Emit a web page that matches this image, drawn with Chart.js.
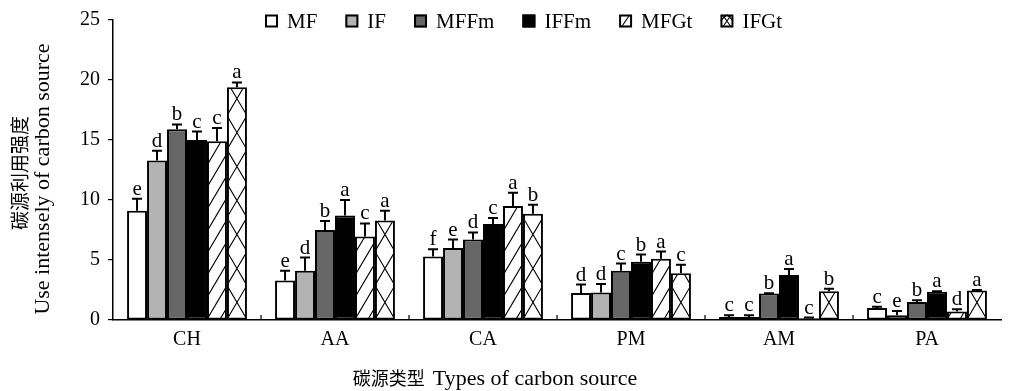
<!DOCTYPE html>
<html>
<head>
<meta charset="utf-8">
<script src="https://cdn.jsdelivr.net/npm/chart.js@4/dist/chart.umd.min.js"></script>
<style>
html,body{margin:0;padding:0;background:#fff;}
canvas{display:block;}
</style>
</head>
<body>
<canvas id="c" width="1013" height="391"></canvas>
<script>
// ---- data ----
const categories = ['CH', 'AA', 'CA', 'PM', 'AM', 'PA'];
const seriesNames = ['MF', 'IF', 'MFFm', 'IFFm', 'MFGt', 'IFGt'];

const valMF   = [9.1, 3.3, 5.3, 2.25, 0.25, 1.0];
const valIF   = [13.3, 4.1, 6.0, 2.3, 0.25, 0.4];
const valMFFm = [15.9, 7.5, 6.7, 4.1, 2.2, 1.5];
const valIFFm = [15.0, 8.7, 8.0, 4.85, 3.75, 2.35];
const valMFGt = [14.9, 6.95, 9.5, 5.1, 0.15, 0.7];
const valIFGt = [19.4, 8.3, 8.85, 3.9, 2.4, 2.45];

const errMF   = [1.0, 0.8, 0.6, 0.7, 0.15, 0.1];
const errIF   = [0.8, 1.1, 0.7, 0.7, 0.15, 0.35];
const errMFFm = [0.4, 0.75, 0.6, 0.6, 0.03, 0.15];
const errIFFm = [0.7, 1.3, 0.5, 0.6, 0.5, 0.05];
const errMFGt = [1.1, 1.1, 1.1, 0.6, 0.05, 0.2];
const errIFGt = [0.4, 0.8, 0.75, 0.7, 0.2, 0.05];

const letMF   = ['e', 'e', 'f', 'd', 'c', 'c'];
const letIF   = ['d', 'd', 'e', 'd', 'c', 'e'];
const letMFFm = ['b', 'b', 'd', 'c', 'b', 'b'];
const letIFFm = ['c', 'a', 'c', 'b', 'a', 'a'];
const letMFGt = ['c', 'c', 'a', 'a', 'c', 'd'];
const letIFGt = ['a', 'a', 'b', 'c', 'b', 'a'];

const yTicks = [0, 5, 10, 15, 20, 25];
const yTitleCN = '碳源利用强度';
const yTitleEN = 'Use intensely of carbon source';
const xTitleCN = '碳源类型';
const xTitleEN = 'Types of carbon source';

// ---- styles ----
const FONT = "'Liberation Serif', 'Times New Roman', 'Noto Sans CJK SC', serif";
const CJK = "'Noto Sans CJK SC', sans-serif";
const fills = ['#ffffff', '#b3b3b3', '#666666', '#000000', '#ffffff', '#ffffff'];
const hatches = [null, null, null, null, 'slash', 'cross'];
const values = [valMF, valIF, valMFFm, valIFFm, valMFGt, valIFGt];
const errors = [errMF, errIF, errMFFm, errIFFm, errMFGt, errIFGt];
const letters = [letMF, letIF, letMFFm, letIFFm, letMFGt, letIFGt];

function drawHatch(ctx, left, top, right, bottom, mode, inset) {
  const w = right - left;
  const h = bottom - top;
  if (w <= 0 || h <= 0) return;
  ctx.save();
  ctx.beginPath();
  ctx.rect(left + inset, top + inset, w - 2 * inset, h - 2 * inset);
  ctx.clip();
  ctx.strokeStyle = '#000';
  ctx.lineWidth = 1.1;
  const slope = 1.7;
  const rise = slope * w;
  const period = mode === 'cross' ? rise : 22;
  const kMin = -Math.ceil(rise / period) - 1;
  const kMax = Math.ceil(h / period) + 1;
  ctx.beginPath();
  for (let k = kMin; k <= kMax; k++) {
    const yb = bottom - k * period;
    ctx.moveTo(left, yb);
    ctx.lineTo(right, yb - rise);
    if (mode === 'cross') {
      ctx.moveTo(left, yb - rise);
      ctx.lineTo(right, yb);
    }
  }
  ctx.stroke();
  ctx.restore();
}

const hatchPlugin = {
  id: 'hatch',
  afterDatasetsDraw(chart) {
    const ctx = chart.ctx;
    chart.data.datasets.forEach((ds, di) => {
      const mode = hatches[di];
      if (!mode) return;
      const meta = chart.getDatasetMeta(di);
      meta.data.forEach(el => {
        const p = el.getProps(['x', 'y', 'base', 'width'], true);
        const left = p.x - p.width / 2, right = p.x + p.width / 2;
        const top = Math.min(p.y, p.base), bottom = Math.max(p.y, p.base);
        drawHatch(ctx, left, top, right, bottom, mode, 1.5);
      });
    });
  }
};

const errorPlugin = {
  id: 'errs',
  afterDatasetsDraw(chart) {
    const ctx = chart.ctx;
    const ys = chart.scales.y;
    ctx.save();
    ctx.strokeStyle = '#000';
    ctx.fillStyle = '#000';
    ctx.lineWidth = 2;
    ctx.font = '21px ' + FONT;
    ctx.textAlign = 'center';
    ctx.textBaseline = 'alphabetic';
    chart.data.datasets.forEach((ds, di) => {
      const meta = chart.getDatasetMeta(di);
      meta.data.forEach((el, i) => {
        const p = el.getProps(['x', 'y'], true);
        const yTop = ys.getPixelForValue(values[di][i] + errors[di][i]);
        ctx.beginPath();
        ctx.moveTo(p.x, p.y);
        ctx.lineTo(p.x, yTop);
        ctx.moveTo(p.x - 5, yTop);
        ctx.lineTo(p.x + 5, yTop);
        ctx.stroke();
        ctx.fillText(letters[di][i], p.x, yTop - 4);
      });
    });
    ctx.restore();
  }
};

const axisPlugin = {
  id: 'innerTicks',
  afterDraw(chart) {
    const ctx = chart.ctx;
    const xs = chart.scales.x;
    const area = chart.chartArea;
    ctx.save();
    ctx.strokeStyle = '#000';
    ctx.lineWidth = 1.2;
    ctx.beginPath();
    for (let i = 0; i < categories.length - 1; i++) {
      const bx = (xs.getPixelForValue(i) + xs.getPixelForValue(i + 1)) / 2;
      ctx.moveTo(bx, area.bottom);
      ctx.lineTo(bx, area.bottom - 5);
    }
    ctx.stroke();

    // axis titles (mixed CJK / Latin sizes as in the reference)
    ctx.fillStyle = '#000';
    ctx.textBaseline = 'middle';
    // x title
    ctx.font = '18px ' + CJK;
    const wCN = ctx.measureText(xTitleCN + ' ').width;
    ctx.font = '22px ' + FONT;
    const wEN = ctx.measureText(xTitleEN).width;
    const xStart = 495 - (wCN + 4 + wEN) / 2;
    ctx.textAlign = 'left';
    ctx.font = '18px ' + CJK;
    ctx.fillText(xTitleCN, xStart, 378);
    ctx.font = '22px ' + FONT;
    ctx.fillText(xTitleEN, xStart + wCN + 4, 379);

    // y title (rotated)
    ctx.save();
    ctx.translate(20, 173);
    ctx.rotate(-Math.PI / 2);
    ctx.textAlign = 'center';
    ctx.font = '19px ' + CJK;
    ctx.fillText(yTitleCN, 0, 0);
    ctx.restore();
    ctx.save();
    ctx.translate(43, 179);
    ctx.rotate(-Math.PI / 2);
    ctx.textAlign = 'center';
    ctx.font = '22px ' + FONT;
    ctx.fillText(yTitleEN, 0, 0);
    ctx.restore();
    ctx.restore();
  }
};

const legendPlugin = {
  id: 'customLegend',
  afterDraw(chart) {
    const ctx = chart.ctx;
    ctx.save();
    ctx.font = '21px ' + FONT;
    ctx.textBaseline = 'middle';
    ctx.fillStyle = '#000';
    let x = 265;
    const cy = 21;
    const box = 13;
    seriesNames.forEach((name, i) => {
      const top = cy - box / 2;
      ctx.fillStyle = fills[i];
      ctx.fillRect(x, top, box, box);
      if (hatches[i]) {
        ctx.save();
        ctx.beginPath();
        ctx.rect(x, top, box, box);
        ctx.clip();
        ctx.strokeStyle = '#000';
        ctx.lineWidth = 1.1;
        ctx.beginPath();
        ctx.moveTo(x + 2, top + box);
        ctx.lineTo(x + box - 2, top);
        if (hatches[i] === 'cross') {
          ctx.moveTo(x + 2, top);
          ctx.lineTo(x + box - 2, top + box);
          ctx.moveTo(x, top + box / 2);
          ctx.lineTo(x + box / 2, top);
          ctx.moveTo(x + box / 2, top);
          ctx.lineTo(x + box, top + box / 2);
        }
        ctx.stroke();
        ctx.restore();
      }
      ctx.strokeStyle = '#000';
      ctx.lineWidth = 2;
      ctx.strokeRect(x + 1, top + 1, box - 2, box - 2);
      ctx.fillStyle = '#000';
      ctx.textAlign = 'left';
      ctx.fillText(name, x + 22, cy + 1);
      x += 22 + ctx.measureText(name).width + 28;
    });
    ctx.restore();
  }
};

const datasets = seriesNames.map((name, i) => ({
  label: name,
  data: values[i],
  backgroundColor: fills[i],
  borderColor: '#000',
  borderWidth: 2,
  borderSkipped: false,
  categoryPercentage: 0.81,
  barPercentage: 1.0
}));

new Chart(document.getElementById('c'), {
  type: 'bar',
  data: { labels: categories, datasets },
  options: {
    responsive: false,
    devicePixelRatio: 1,
    animation: false,
    layout: { padding: { top: 17, right: 12, left: 0, bottom: 0 } },
    plugins: {
      legend: { display: false },
      tooltip: { enabled: false }
    },
    scales: {
      y: {
        min: 0,
        max: 25,
        afterBuildTicks(scale) { scale.ticks = yTicks.map(v => ({ value: v })); },
        afterFit(scale) { scale.width = 113; },
        ticks: { color: '#000', font: { family: FONT, size: 20 }, padding: 8 },
        grid: { drawOnChartArea: false, drawTicks: true, tickLength: 5, color: '#000', lineWidth: 1.2 },
        border: { display: true, color: '#000', width: 1.5 }
      },
      x: {
        afterFit(scale) { scale.height = 71; },
        ticks: { color: '#000', font: { family: FONT, size: 20 }, padding: 8 },
        grid: { drawOnChartArea: false, drawTicks: false, color: '#000' },
        border: { display: true, color: '#000', width: 1.5 }
      }
    }
  },
  plugins: [hatchPlugin, errorPlugin, axisPlugin, legendPlugin]
});
</script>
</body>
</html>
